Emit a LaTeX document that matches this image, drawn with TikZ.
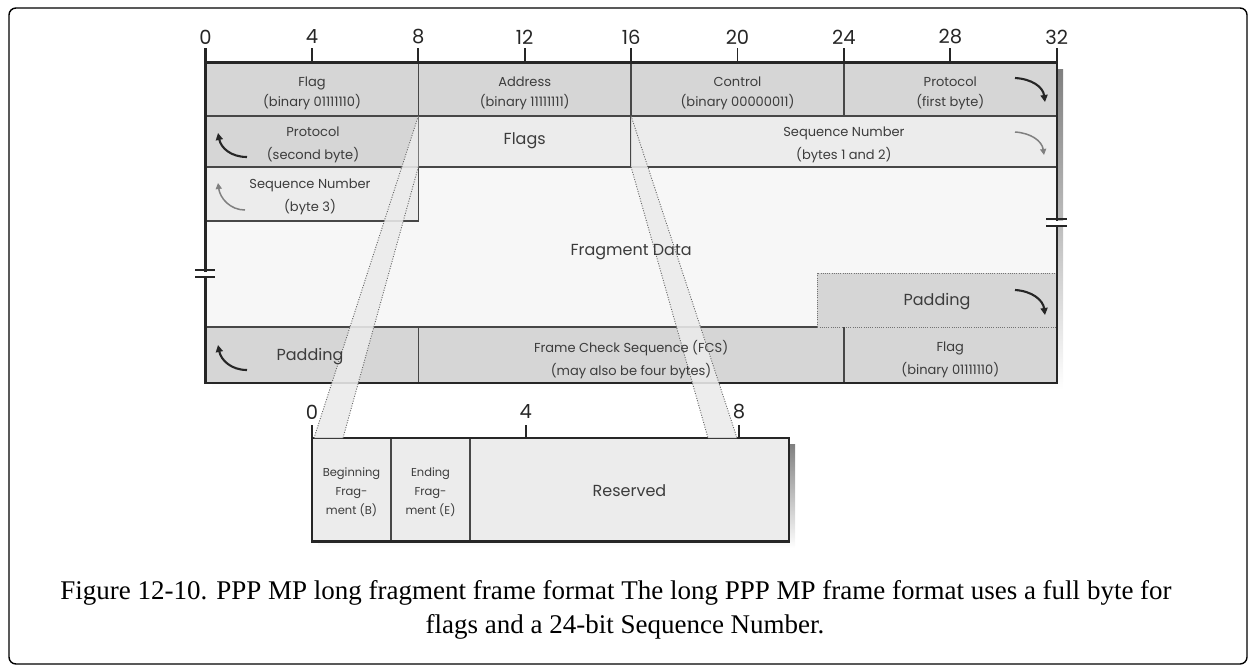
\documentclass[tikz,border=0pt]{standalone}
\usepackage{fontspec}
\setmainfont{Liberation Serif}
\newfontfamily\diagfont{Poppins}
\usetikzlibrary{arrows.meta}
\definecolor{cellgray}{HTML}{D6D6D6}
\definecolor{celllight}{HTML}{ECECEC}
\definecolor{datafill}{HTML}{F7F7F7}
\definecolor{bandfill}{HTML}{EBEBEB}
\definecolor{ink}{HTML}{262626}
\definecolor{shade}{HTML}{CDCDCD}
\begin{document}
\begin{tikzpicture}[x=1pt,y=-1pt,
  outline/.style={line width=2.2pt,draw=ink},
  divider/.style={line width=1.3pt,draw=ink!85},
  dotline/.style={line width=1pt,draw=black!55,dash pattern=on 1pt off 1.2pt},
  bandedge/.style={line width=0.9pt,draw=black!60,dash pattern=on 1pt off 1.5pt},
  celltxt/.style={font=\diagfont\fontsize{13}{20}\selectfont,text=ink!90,align=center,inner sep=0pt},
  celltxtb/.style={font=\diagfont\fontsize{13}{23}\selectfont,text=ink!90,align=center,inner sep=0pt},
  bigtxt/.style={font=\diagfont\fontsize{16}{20}\selectfont,text=ink!90,inner sep=0pt},
  smalltxt/.style={font=\diagfont\fontsize{11.5}{19}\selectfont,text=ink!90,align=center,inner sep=0pt},
  numtxt/.style={font=\diagfont\fontsize{19.5}{22}\selectfont,text=ink,inner sep=0pt},
  captxt/.style={font=\fontsize{27}{32}\selectfont,text=black,inner sep=0pt},
  blackarrow/.style={line width=2.1pt,draw=ink,-{Triangle[length=7pt,width=7pt]}},
  grayarrow/.style={line width=1.5pt,draw=black!50,-{Triangle[length=6pt,width=6pt]}},
  tickline/.style={line width=1.8pt,draw=ink}
]
\useasboundingbox (0,0) rectangle (1250,665);
% outer rounded frame
\draw[line width=1.4pt,rounded corners=7pt] (9,8) rectangle (1247,664);

% ---------- main frame fills ----------
\fill[shade] (212,69) rectangle (1063,390);
\fill[cellgray] (205.5,62.5) rectangle (1056.7,116);
\fill[cellgray] (205.5,116) rectangle (418.3,167);
\fill[celllight] (418.3,116) rectangle (1056.7,167);
\fill[datafill] (205.5,167) rectangle (1056.7,327);
\fill[celllight] (205.5,167) rectangle (418.3,221);
\fill[cellgray] (817.3,273) rectangle (1056.7,327);
\fill[cellgray] (205.5,327) rectangle (1056.7,383);

% ---------- lower box fills ----------
\fill[shade] (318,444) rectangle (795,548);
\fill[celllight] (312,438) rectangle (789,541.5);

% ---------- dividers ----------
\draw[divider] (205.5,116) -- (1056.7,116);
\draw[divider] (205.5,167) -- (1056.7,167);
\draw[divider] (205.5,221) -- (418.3,221) -- (418.3,167);
\draw[divider] (418.3,62.5) -- (418.3,167);
\draw[divider] (631.1,62.5) -- (631.1,167);
\draw[divider] (843.9,62.5) -- (843.9,116);
\draw[divider] (205.5,327) -- (817.3,327);
\draw[dotline] (817.3,327) -- (817.3,273) -- (1056.7,273);
\draw[dotline] (817.3,327) -- (1056.7,327);
\draw[divider] (418.3,327) -- (418.3,383);
\draw[divider] (843.9,327) -- (843.9,383);

% ---------- main outline and ticks ----------
\draw[outline] (205.5,48) -- (205.5,383) -- (1056.7,383) -- (1056.7,48);
\draw[outline] (205.5,62.5) -- (1056.7,62.5);
\foreach \b in {4,8,...,28}
  \draw[tickline] ({205.5+26.6*\b},48) -- ({205.5+26.6*\b},62.5);
\foreach \b in {0,4,...,32}
  \node[numtxt] (t\b) at ({205.5+26.6*\b},37) {\b};

% break marks
\fill[white] (196,271.5) rectangle (215,275.5);
\draw[line width=1.6pt,ink] (195,270) -- (215,270) (195,277) -- (215,277);
\fill[white] (1047,220.5) rectangle (1067,224.5);
\draw[line width=1.6pt,ink] (1046,219) -- (1067,219) (1046,226) -- (1067,226);

% ---------- lower box outline ----------
\draw[divider] (391,438) -- (391,541.5);
\draw[divider] (470,438) -- (470,541.5);
\draw[outline] (312,438) rectangle (789,541.5);
\draw[tickline] (312,425) -- (312,438);
\draw[tickline] (525.7,425) -- (525.7,438);
\draw[tickline] (739,425) -- (739,438);
\node[numtxt] (l0) at (312,412) {0};
\node[numtxt] (l4) at (525.7,412) {4};
\node[numtxt] (l8) at (739,412) {8};

% ---------- zoom bands ----------
\coordinate (fl-top) at (418.3,116);
\coordinate (fl-bot) at (418.3,167);
\coordinate (fr-top) at (631.1,116);
\coordinate (fr-bot) at (631.1,167);
\coordinate (lo-a) at (314,438);
\coordinate (lo-b) at (343,438);
\coordinate (lo-c) at (708,438);
\coordinate (lo-d) at (737,438);
\fill[bandfill,opacity=0.88] (fl-top) -- (lo-a) -- (lo-b) -- (fl-bot) -- cycle;
\fill[bandfill,opacity=0.88] (fr-top) -- (lo-d) -- (lo-c) -- (fr-bot) -- cycle;
\draw[bandedge] (fl-top) -- (lo-a);
\draw[bandedge] (fl-bot) -- (lo-b);
\draw[bandedge] (fr-top) -- (lo-d);
\draw[bandedge] (fr-bot) -- (lo-c);

% ---------- texts ----------
\node[celltxt] (flag1) at (312,93) {Flag\\(binary 01111110)};
\node[celltxt] (addr) at (524.7,93) {Address\\(binary 11111111)};
\node[celltxt] (ctrl) at (737.5,93) {Control\\(binary 00000011)};
\node[celltxt] (prot1) at (950.3,93) {Protocol\\(first byte)};
\node[celltxtb] (prot2) at (313,145) {Protocol\\(second byte)};
\node[bigtxt] (flags) at (524.7,141) {Flags};
\node[celltxtb] (seq12) at (843.9,145) {Sequence Number\\(bytes 1 and 2)};
\node[celltxtb] (seq3) at (310,197) {Sequence Number\\(byte 3)};
\node[bigtxt] (frag) at (631.1,252) {Fragment Data};
\node[bigtxt] (padr) at (937,302) {Padding};
\node[bigtxt] (padl) at (310,357) {Padding};
\node[celltxtb] (fcs) at (631.1,359.5) {Frame Check Sequence (FCS)\\(may also be four bytes)};
\node[celltxtb] (flag2) at (950.3,359.5) {Flag\\(binary 01111110)};
\node[smalltxt] (bfrag) at (351.5,492) {Beginning\\Frag-\\ment (B)};
\node[smalltxt] (efrag) at (430.5,492) {Ending\\Frag-\\ment (E)};
\node[bigtxt] (resv) at (629.5,491) {Reserved};

% ---------- curved arrows ----------
\coordinate (a1s) at (1015,78);   \coordinate (a1e) at (1045,102);
\coordinate (a2s) at (1015,132);  \coordinate (a2e) at (1044,155);
\coordinate (a3s) at (1015,290);  \coordinate (a3e) at (1045,315);
\coordinate (a4s) at (247,157);   \coordinate (a4e) at (218,133);
\coordinate (a5s) at (245,210);   \coordinate (a5e) at (218,183);
\coordinate (a6s) at (247,370);   \coordinate (a6e) at (218,345);
\draw[blackarrow] (a1s) .. controls (1032,79) and (1043,87) .. (a1e);
\draw[grayarrow] (a2s) .. controls (1031,133) and (1042,141) .. (a2e);
\draw[blackarrow] (a3s) .. controls (1032,291) and (1043,300) .. (a3e);
\draw[blackarrow] (a4s) .. controls (231,157) and (221,148) .. (a4e);
\draw[grayarrow] (a5s) .. controls (230,210) and (220,198) .. (a5e);
\draw[blackarrow] (a6s) .. controls (231,370) and (221,360) .. (a6e);

% ---------- caption ----------
\node[captxt,anchor=base] (cap1) at (616,599) {Figure 12-10. PPP MP long fragment frame format The long PPP MP frame format uses a full byte for};
\node[captxt,anchor=base] (cap2) at (625,633) {flags and a 24-bit Sequence Number.};
\end{tikzpicture}
\end{document}
